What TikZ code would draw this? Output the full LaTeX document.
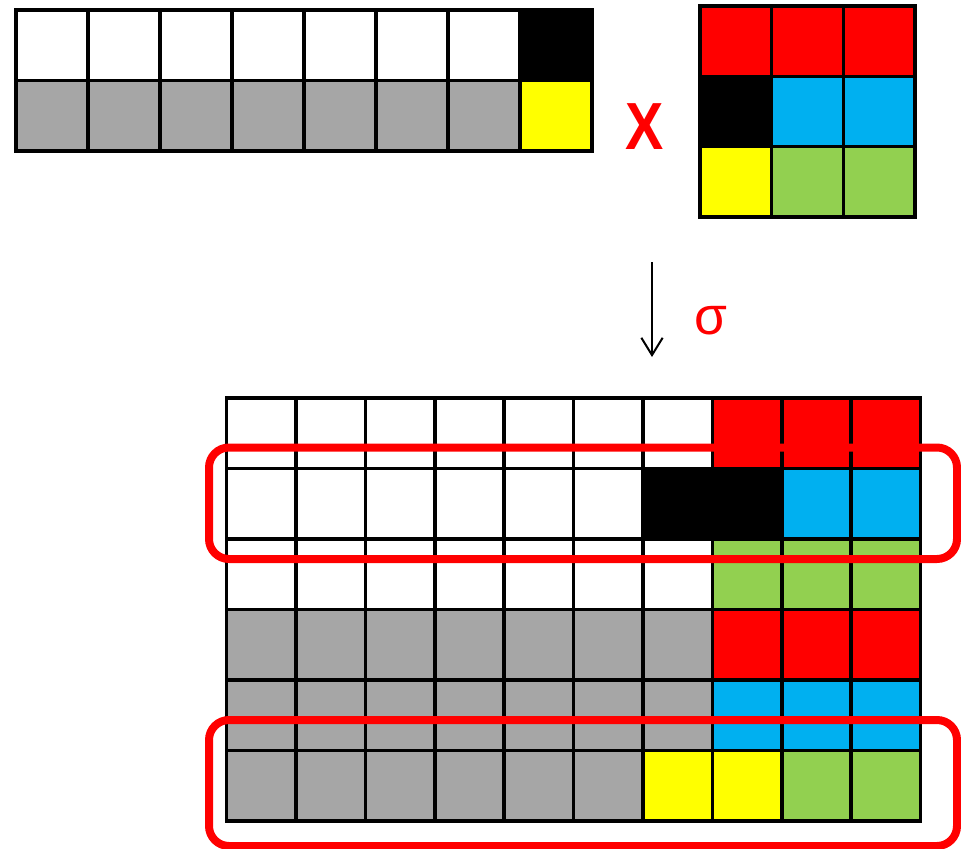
\documentclass[tikz,border=0pt]{standalone}
\usepackage{fontspec}
\setmainfont{Liberation Sans}
\usepackage{xcolor}
\usetikzlibrary{arrows.meta}
\definecolor{bmRed}{HTML}{FF0000}
\definecolor{bmCyan}{HTML}{00B0F0}
\definecolor{bmGreen}{HTML}{92D050}
\definecolor{bmGray}{HTML}{A6A6A6}
\definecolor{bmYellow}{HTML}{FFFF00}
\tikzset{
  cellgrid/.style={draw=black, line width=2.7pt, line cap=rect},
  hilite/.style={draw=bmRed, line width=6pt, rounded corners=15pt},
  maparrow/.style={draw=black, line width=1.5pt, -{Straight Barb[length=13pt,width=16pt]}},
  redlabel/.style={text=bmRed, inner sep=0pt},
}

\begin{document}
\begin{tikzpicture}[x=0.75pt,y=-0.75pt]
\useasboundingbox (0,0) rectangle (961,849);

% left factor, 8 x 2
\begin{scope}[shift={(16,10)},x=54pt,y=-52.875pt]
  \foreach \row [count=\j from 0] in {{white,white,white,white,white,white,white,black},
                                      {bmGray,bmGray,bmGray,bmGray,bmGray,bmGray,bmGray,bmYellow}}
    \foreach \col [count=\i from 0] in \row
      \fill[\col] (\i,\j) rectangle ++(1,1);
  \draw[cellgrid, xstep=54pt, ystep=52.875pt] (0,0) grid (8,2);
\end{scope}

\node[redlabel, font=\bfseries\fontsize{50}{50}\selectfont, xscale=0.86] (times) at (645,127) {X};

% right factor, 3 x 3
\begin{scope}[shift={(700,6)},x=53.75pt,y=-52.75pt]
  \foreach \row [count=\j from 0] in {{bmRed,bmRed,bmRed},{black,bmCyan,bmCyan},{bmYellow,bmGreen,bmGreen}}
    \foreach \col [count=\i from 0] in \row
      \fill[\col] (\i,\j) rectangle ++(1,1);
  \draw[cellgrid, xstep=53.75pt, ystep=52.75pt] (0,0) grid (3,3);
\end{scope}

% the map
\coordinate (mapfrom) at (652,262);
\coordinate (mapto) at (652,357);
\draw[maparrow] (mapfrom) -- (mapto);
\node[redlabel, font=\fontsize{40}{40}\selectfont] (sigma) at (711,321) {σ};

% product, 10 x 6
\begin{scope}[shift={(226.5,398)},x=52.05pt,y=-52.875pt]
  \foreach \row [count=\j from 0] in {
      {white,white,white,white,white,white,white,bmRed,bmRed,bmRed},
      {white,white,white,white,white,white,black,black,bmCyan,bmCyan},
      {white,white,white,white,white,white,white,bmGreen,bmGreen,bmGreen},
      {bmGray,bmGray,bmGray,bmGray,bmGray,bmGray,bmGray,bmRed,bmRed,bmRed},
      {bmGray,bmGray,bmGray,bmGray,bmGray,bmGray,bmGray,bmCyan,bmCyan,bmCyan},
      {bmGray,bmGray,bmGray,bmGray,bmGray,bmGray,bmYellow,bmYellow,bmGreen,bmGreen}}
    \foreach \col [count=\i from 0] in \row
      \fill[\col] (\i,\j) rectangle ++(1,1);
  \draw[cellgrid, xstep=52.05pt, ystep=52.875pt] (0,0) grid (10,6);
\end{scope}

% marked rows
\draw[hilite] (209,447.5) rectangle (957,559);
\draw[hilite] (209,720) rectangle (957,846);
\end{tikzpicture}
\end{document}
